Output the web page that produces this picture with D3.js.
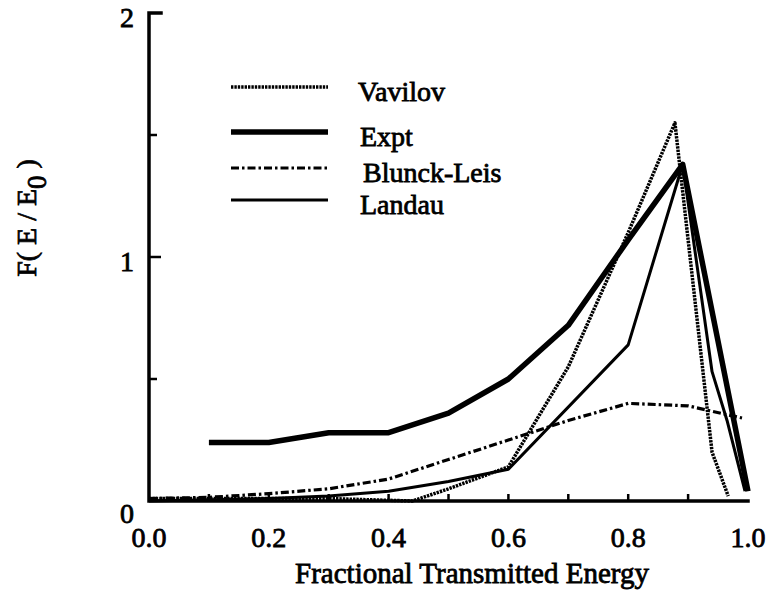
<!DOCTYPE html>
<html><head><meta charset="utf-8">
<script src="https://cdn.jsdelivr.net/npm/d3@7"></script>
<style>body{margin:0;background:#fff}</style>
</head><body><svg id="c" width="770" height="595"></svg>
<script>
const seriesNames = ["Vavilov","Expt","Blunck-Leis","Landau"];
const vavilovX = [0,0.1,0.2,0.3,0.44,0.5,0.6,0.7,0.8,0.878,0.94,0.967];
const vavilovY = [0.01,0.01,0.01,0.01,0.0,0.05,0.14,0.55,1.1,1.55,0.2,0.02];
const exptX = [0.1,0.2,0.3,0.4,0.5,0.6,0.7,0.8,0.891,1.0];
const exptY = [0.24,0.24,0.28,0.28,0.36,0.50,0.72,1.07,1.38,0.04];
const blunckX = [0,0.1,0.2,0.3,0.4,0.5,0.6,0.7,0.8,0.9,0.99];
const blunckY = [0.01,0.015,0.03,0.05,0.09,0.17,0.25,0.33,0.40,0.39,0.34];
const landauX = [0,0.1,0.2,0.3,0.4,0.5,0.6,0.8,0.891,0.94,0.965,0.995];
const landauY = [0,0.005,0.01,0.02,0.04,0.08,0.13,0.64,1.38,0.53,0.33,0.04];
const xTickLabels = ["0.0","0.2","0.4","0.6","0.8","1.0"];
const yTickLabels = ["0","1","2"];
const xTitle = "Fractional Transmitted Energy";

const svg = d3.select("#c");
const x = d3.scaleLinear().domain([0,1]).range([149,748]);
const y = d3.scaleLinear().domain([0,2]).range([501,13]);

const styles = {
  "Vavilov": {w:3.5, dash:"2.4,1"},
  "Expt": {w:5.5, dash:null},
  "Blunck-Leis": {w:3.2, dash:"8,3,2.5,3"},
  "Landau": {w:3, dash:null}
};
const data = {
  "Vavilov": d3.zip(vavilovX,vavilovY),
  "Expt": d3.zip(exptX,exptY),
  "Blunck-Leis": d3.zip(blunckX,blunckY),
  "Landau": d3.zip(landauX,landauY)
};
const line = d3.line().x(d=>x(d[0])).y(d=>y(d[1]));
seriesNames.forEach(n=>{
  svg.append("path").attr("d",line(data[n])).attr("fill","none")
    .attr("stroke","#000").attr("stroke-width",styles[n].w)
    .attr("stroke-dasharray",styles[n].dash).attr("stroke-linejoin","round");
});

// axes
const ax = svg.append("g").attr("stroke","#000").attr("fill","none");
ax.append("path").attr("d",`M${x(0)},${y(2)}H${x(0)+12}M${x(0)},${y(2)}V${y(0)}H${x(1)}`).attr("stroke-width",3.5).attr("stroke-linecap","square");
d3.range(0.5,2,0.5).forEach(v=>{
  const len = Number.isInteger(v)?12:8;
  ax.append("line").attr("x1",x(0)).attr("x2",x(0)+len).attr("y1",y(v)).attr("y2",y(v)).attr("stroke-width",2.5);
});
d3.range(1,10).forEach(i=>{
  const v=i/10;
  ax.append("line").attr("x1",x(v)).attr("x2",x(v)).attr("y1",y(0)).attr("y2",y(0)-7).attr("stroke-width",2.5);
});

const T = (sel)=>sel.style("font-family",'"Liberation Serif"').attr("fill","#000").attr("stroke","#000").attr("stroke-width",0.8);
// tick labels
xTickLabels.forEach(t=>{
  T(svg.append("text")).attr("x",x(+t)).attr("y",547).attr("text-anchor","middle")
    .attr("font-size",28).text(t);
});
yTickLabels.forEach(t=>{
  const v=+t;
  T(svg.append("text")).attr("x",x(0)-15).attr("y",y(v)+(v===0?22:14)).attr("text-anchor","end")
    .attr("font-size",28).text(t);
});

// axis titles
T(svg.append("text")).attr("x",472).attr("y",583).attr("text-anchor","middle").attr("font-size",29).text(xTitle);
const yl = T(svg.append("text")).attr("transform","translate(36,218) rotate(-90)").attr("text-anchor","middle").attr("font-size",28);
yl.append("tspan").text("F( E / E");
yl.append("tspan").attr("dy",10).attr("font-size",27).text("0");
yl.append("tspan").attr("dy",-10).text(" )");

// legend
const legY = [87,132,168,200];
const legTx = [358,360,363,360];
seriesNames.forEach((n,i)=>{
  svg.append("line").attr("x1",231).attr("x2",328).attr("y1",legY[i]).attr("y2",legY[i])
    .attr("stroke","#000").attr("stroke-width",styles[n].w).attr("stroke-dasharray",styles[n].dash);
  T(svg.append("text")).attr("x",legTx[i]).attr("y",legY[i]+14).attr("font-size",28).text(n);
});
</script></body></html>
